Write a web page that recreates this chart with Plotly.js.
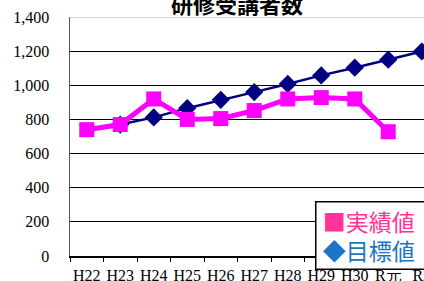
<!DOCTYPE html>
<html><head><meta charset="utf-8">
<script src="https://cdn.plot.ly/plotly-3.0.1.min.js"></script>
<style>html,body{margin:0;padding:0;overflow:hidden;background:#fff}</style>
</head><body><div id="chart" style="width:424px;height:281px"></div>
<script>
const categories = ['H22','H23','H24','H25','H26','H27','H28','H29','H30','R元','R2'];
const actual = [740, 770, 920, 800, 805, 852, 920, 928, 920, 728, null];
const target = [null, 770, 812, 866, 915, 960, 1008, 1058, 1103, 1150, 1198];
const titleText = '<b>研修受講者数</b>';
const legendText = '&nbsp;<span style="color:#ff3399">■実績値</span>&nbsp;&nbsp;&nbsp;<br>&nbsp;<span style="color:#1a75c7">◆目標値</span>&nbsp;&nbsp;&nbsp;';

const serif = 'Liberation Serif, DejaVu Serif, serif';
const traces = [
  {x: categories, y: target, type: 'scatter', mode: 'lines+markers', name: '目標値',
   line: {color: '#000080', width: 2.5}, marker: {symbol: 'diamond', size: 14, color: '#000080'},
   cliponaxis: false, connectgaps: false},
  {x: categories, y: actual, type: 'scatter', mode: 'lines+markers', name: '実績値',
   line: {color: '#ff00ff', width: 5}, marker: {symbol: 'square', size: 15, color: '#ff00ff'},
   cliponaxis: false, connectgaps: false}
];
const layout = {
  width: 424, height: 281,
  margin: {l: 70, r: 0, t: 17, b: 25},
  paper_bgcolor: '#fff', plot_bgcolor: '#fff',
  showlegend: false,
  xaxis: {type: 'category', range: [-0.5, 10.067], showgrid: false, zeroline: false,
          showline: true, linecolor: '#000', linewidth: 1.5,
          ticks: 'outside', ticklen: 4, tickcolor: '#000', tickson: 'boundaries', tickangle: 0,
          tickfont: {family: serif, size: 16, color: '#000'}, ticklabelstandoff: 4},
  yaxis: {range: [0, 1400], dtick: 200, tickformat: ',d', showgrid: true, gridcolor: '#000', gridwidth: 1,
          zeroline: false, showline: true, linecolor: '#555', linewidth: 1.5, ticks: '',
          tickfont: {family: serif, size: 16, color: '#000'}, ticklabelstandoff: 16},
  shapes: [{type: 'line', xref: 'paper', yref: 'y', x0: 0, x1: 1, y0: 1400, y1: 1400,
            line: {color: '#c0c0c0', width: 1.5}}],
  annotations: [
   {xref: 'paper', yref: 'paper', x: 0.472, y: 1.058, xanchor: 'center', yanchor: 'middle',
    text: titleText, showarrow: false, font: {family: 'Noto Sans CJK JP', size: 22, color: '#000'}},
   {xref: 'paper', yref: 'paper', x: (315-70)/354, y: 0.085, xanchor: 'left', yanchor: 'middle',
    text: legendText, showarrow: false, align: 'left',
    font: {family: 'Noto Sans CJK JP', size: 23}, bordercolor: '#000', borderwidth: 1.5,
    bgcolor: '#fff', borderpad: 1}]
};
Plotly.newPlot('chart', traces, layout, {displayModeBar: false, staticPlot: true});
</script></body></html>
